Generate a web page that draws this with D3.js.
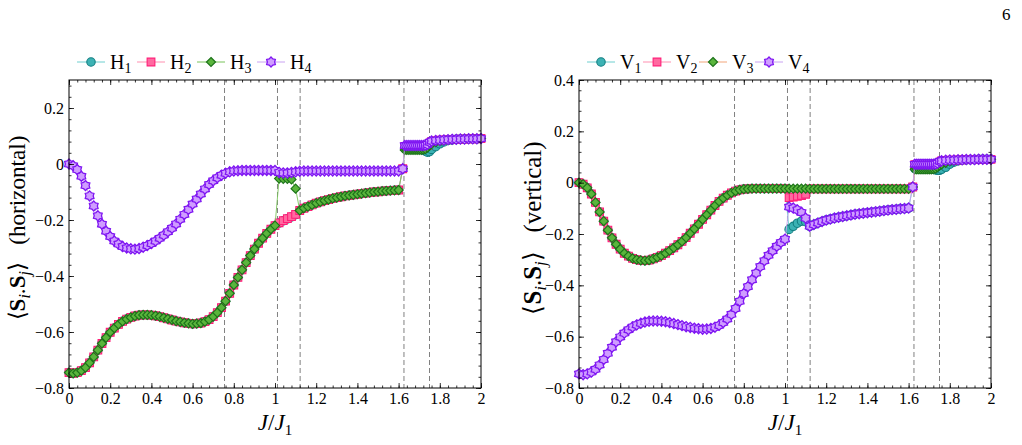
<!DOCTYPE html>
<html>
<head>
<meta charset="utf-8">
<script src="https://cdn.jsdelivr.net/npm/d3@7"></script>
<style>
  body { margin: 0; background: #fff; }
  svg, svg text { font-family: "Liberation Serif", "Times New Roman", serif; }
  svg { display: block; }
</style>
</head>
<body>
<div id="viz"></div>
<script>
// J/J1 grid (denser between the two right-hand transitions)
var J = [0,0.02,0.04,0.06,0.08,0.1,0.12,0.14,0.16,0.18,
         0.2,0.22,0.24,0.26,0.28,0.3,0.32,0.34,0.36,0.38,
         0.4,0.42,0.44,0.46,0.48,0.5,0.52,0.54,0.56,0.58,
         0.6,0.62,0.64,0.66,0.68,0.7,0.72,0.74,0.76,0.78,
         0.8,0.82,0.84,0.86,0.88,0.9,0.92,0.94,0.96,0.98,
         1,1.02,1.04,1.06,1.08,1.1,1.12,1.14,1.16,1.18,
         1.2,1.22,1.24,1.26,1.28,1.3,1.32,1.34,1.36,1.38,
         1.4,1.42,1.44,1.46,1.48,1.5,1.52,1.54,1.56,1.58,
         1.6,1.62,
         1.63,1.64,1.65,1.66,1.67,1.68,1.69,1.7,1.71,1.72,1.73,1.74,1.75,
         1.76,1.78,1.8,1.82,1.84,1.86,1.88,1.9,1.92,1.94,1.96,1.98,2];

// shared pieces, J = 0 .. 1.00
var upperHead = [0.000,-0.006,-0.020,-0.044,-0.077,-0.114,-0.150,-0.185,-0.215,-0.240,
                 -0.259,-0.275,-0.286,-0.295,-0.300,-0.303,-0.304,-0.302,-0.297,-0.291,
                 -0.284,-0.275,-0.265,-0.254,-0.242,-0.229,-0.214,-0.197,-0.180,-0.162,
                 -0.143,-0.125,-0.107,-0.089,-0.073,-0.060,-0.049,-0.040,-0.033,-0.028,
                 -0.025,-0.024,-0.023,-0.023,-0.023,-0.023,-0.023,-0.023,-0.023,-0.023,
                 -0.023];
var lowerHead = [-0.745,-0.748,-0.745,-0.738,-0.727,-0.710,-0.689,-0.665,-0.641,-0.620,
                 -0.601,-0.586,-0.573,-0.562,-0.554,-0.548,-0.543,-0.540,-0.539,-0.539,
                 -0.540,-0.542,-0.545,-0.549,-0.553,-0.557,-0.561,-0.564,-0.567,-0.569,
                 -0.571,-0.570,-0.568,-0.563,-0.556,-0.545,-0.531,-0.513,-0.490,-0.462,
                 -0.432,-0.405,-0.378,-0.352,-0.327,-0.304,-0.283,-0.265,-0.248,-0.233,
                 -0.220];
// J = 1.12 .. 1.60
var lowerTailH = [-0.166,-0.158,-0.152,-0.146,-0.140,-0.135,-0.131,-0.127,-0.123,-0.120,
                  -0.117,-0.114,-0.112,-0.110,-0.108,-0.106,-0.104,-0.102,-0.100,-0.099,
                  -0.097,-0.096,-0.095,-0.094,-0.093];
var upperTailH = [-0.026,-0.025,-0.025,-0.025,-0.025,-0.025,-0.025,-0.025,-0.025,-0.025,
                  -0.025,-0.025,-0.025,-0.025,-0.025,-0.025,-0.025,-0.025,-0.025,-0.025,
                  -0.025,-0.025,-0.025,-0.025,-0.025];
var lowerTailV = [-0.170,-0.163,-0.157,-0.151,-0.146,-0.142,-0.138,-0.135,-0.132,-0.129,
                  -0.126,-0.123,-0.121,-0.119,-0.117,-0.115,-0.113,-0.111,-0.109,-0.107,
                  -0.105,-0.104,-0.102,-0.101,-0.099];
var upperTailV = [-0.024,-0.024,-0.024,-0.024,-0.024,-0.024,-0.024,-0.024,-0.024,-0.024,
                  -0.024,-0.024,-0.024,-0.024,-0.024,-0.024,-0.024,-0.024,-0.024,-0.024,
                  -0.024,-0.024,-0.024,-0.024,-0.024];

// horizontal bonds
var H1 = [].concat(lowerHead, [-0.211,-0.203,-0.196,-0.189,-0.181], lowerTailH, [-0.017],
  [0.055,0.055,0.055,0.055,0.055,0.055,0.055,0.055,0.053,0.050,0.046,0.042,0.044],
  [0.052,0.062,0.072,0.079,0.084,0.086,0.088,0.089,0.089,0.090,0.090,0.090,0.091]);
var H2 = [].concat(lowerHead, [-0.210,-0.202,-0.195,-0.188,-0.180], lowerTailH, [-0.017],
  [0.063,0.063,0.063,0.063,0.063,0.063,0.063,0.063,0.063,0.063,0.064,0.066,0.074],
  [0.080,0.083,0.085,0.086,0.087,0.088,0.088,0.089,0.089,0.090,0.090,0.090,0.091]);
var H3 = [].concat(lowerHead, [-0.052,-0.053,-0.053,-0.055,-0.088], lowerTailH, [-0.017],
  [0.050,0.050,0.050,0.050,0.050,0.050,0.050,0.050,0.050,0.051,0.053,0.058,0.066],
  [0.072,0.078,0.082,0.085,0.086,0.087,0.088,0.089,0.089,0.090,0.090,0.090,0.091]);
var H4 = [].concat(upperHead, [-0.030,-0.032,-0.032,-0.030,-0.028], upperTailH, [-0.017],
  [0.066,0.066,0.066,0.066,0.066,0.066,0.066,0.066,0.066,0.066,0.067,0.070,0.078],
  [0.082,0.084,0.085,0.086,0.087,0.088,0.088,0.089,0.089,0.090,0.090,0.090,0.091]);

// vertical bonds
var V1 = [].concat(upperHead, [-0.182,-0.170,-0.158,-0.150,-0.152], lowerTailV, [-0.017],
  [0.055,0.055,0.055,0.055,0.055,0.055,0.055,0.055,0.054,0.052,0.050,0.048,0.048],
  [0.052,0.060,0.072,0.080,0.085,0.088,0.089,0.090,0.090,0.091,0.091,0.091,0.091]);
var V2 = [].concat(upperHead, [-0.058,-0.056,-0.053,-0.050,-0.045], upperTailV, [-0.017],
  [0.070,0.070,0.070,0.070,0.070,0.070,0.070,0.070,0.070,0.070,0.071,0.074,0.080],
  [0.085,0.087,0.088,0.088,0.089,0.089,0.090,0.090,0.090,0.091,0.091,0.091,0.091]);
var V3 = [].concat(upperHead, [-0.023,-0.023,-0.023,-0.023,-0.023], upperTailV, [-0.017],
  [0.052,0.052,0.052,0.052,0.052,0.052,0.052,0.052,0.052,0.053,0.055,0.060,0.066],
  [0.071,0.077,0.083,0.086,0.088,0.089,0.090,0.090,0.090,0.091,0.091,0.091,0.091]);
var V4 = [].concat(lowerHead, [-0.095,-0.099,-0.106,-0.116,-0.138], lowerTailV, [-0.017],
  [0.072,0.072,0.072,0.072,0.072,0.072,0.072,0.072,0.072,0.072,0.073,0.076,0.083],
  [0.085,0.087,0.088,0.088,0.089,0.089,0.090,0.090,0.090,0.091,0.091,0.091,0.091]);

var transitions = [0.755, 1.012, 1.122, 1.626, 1.75];
var xTicks = [0, 0.2, 0.4, 0.6, 0.8, 1, 1.2, 1.4, 1.6, 1.8, 2];
var yTicksH = [-0.8, -0.6, -0.4, -0.2, 0, 0.2];
var yTicksV = [-0.8, -0.6, -0.4, -0.2, 0, 0.2, 0.4];

// six-pointed marker
var hexagram = {
  draw: function(ctx, size) {
    var R = Math.sqrt(size) * 0.62, r = R * 0.72;
    for (var k = 0; k < 12; k++) {
      var a = -Math.PI / 2 + k * Math.PI / 6, rr = k % 2 ? r : R;
      if (k === 0) ctx.moveTo(rr * Math.cos(a), rr * Math.sin(a));
      else ctx.lineTo(rr * Math.cos(a), rr * Math.sin(a));
    }
    ctx.closePath();
  }
};

var styles = [
  {shape: d3.symbolCircle,   size: 56, fill: "#3cb2b4", stroke: "#137f82", line: "#6fcfcf", sw: 1.1},
  {shape: d3.symbolSquare,   size: 60, fill: "#ff69a0", stroke: "#ff1f78", line: "#ff8fb0", sw: 1.1},
  {shape: d3.symbolDiamond2, size: 52, fill: "#5ab53c", stroke: "#1d741a", line: "#79c35a", sw: 1.2},
  {shape: hexagram,          size: 66, fill: "#cf9dff", stroke: "#7f16f2", line: "#c9a2f2", sw: 1.3}
];

var svg = d3.select('#viz').append('svg')
  .attr('width', 1022)
  .attr('height', 445);

svg.append('text').attr('x', 1002).attr('y', 20)
  .style('font-size', '17px').text('6');

function fmt(d) { return d3.format('~g')(d); }

// draws minor + major inward ticks for one side of the frame
function side(g, make, ticks, minor, labels) {
  g.append('g').call(make().tickValues(minor).tickSizeInner(-2.5).tickSizeOuter(0).tickFormat(''))
    .select('.domain').remove();
  g.append('g').call(make().tickValues(ticks).tickSizeInner(-5).tickSizeOuter(0)
      .tickPadding(labels ? 5 : 0).tickFormat(labels ? fmt : ''))
    .select('.domain').remove();
  return g;
}

function panel(p) {
  var x = d3.scaleLinear().domain([0, 2]).range([p.left, p.right]);
  var y = d3.scaleLinear().domain(p.yDomain).range([388, 80]);
  var g = svg.append('g');

  // phase boundaries
  g.selectAll('line.tr').data(transitions).enter().append('line')
    .attr('x1', function(d) { return x(d); }).attr('x2', function(d) { return x(d); })
    .attr('y1', 80).attr('y2', 388)
    .attr('stroke', '#808080').attr('stroke-width', 1).attr('stroke-dasharray', '5,3');

  var line = d3.line().x(function(d, i) { return x(J[i]); }).y(function(d) { return y(d); });

  p.series.forEach(function(vals, s) {
    var st = styles[s];
    var lc = (p.lineColors && p.lineColors[s]) || st.line;
    g.append('path').datum(vals).attr('d', line)
      .attr('fill', 'none').attr('stroke', lc).attr('stroke-width', 0.9);
    g.selectAll('path.m' + s).data(vals).enter().append('path')
      .attr('class', 'm' + s)
      .attr('d', d3.symbol(st.shape, st.size))
      .attr('transform', function(d, i) { return 'translate(' + x(J[i]) + ',' + y(d) + ')'; })
      .attr('fill', st.fill).attr('stroke', st.stroke).attr('stroke-width', st.sw);
  });

  // frame and ticks (inward, on all sides)
  var xMinor = d3.range(0, 2.0001, 0.04);
  var yMinor = d3.range(p.yDomain[0], p.yDomain[1] + 1e-6, 0.04);
  var ga = g.append('g');
  side(ga.append('g').attr('transform', 'translate(0,388)'), function() { return d3.axisBottom(x); }, xTicks, xMinor, true);
  side(ga.append('g').attr('transform', 'translate(0,80)'), function() { return d3.axisTop(x); }, xTicks, xMinor, false);
  side(ga.append('g').attr('transform', 'translate(' + p.left + ',0)'), function() { return d3.axisLeft(y); }, p.yTicks, yMinor, true);
  side(ga.append('g').attr('transform', 'translate(' + p.right + ',0)'), function() { return d3.axisRight(y); }, p.yTicks, yMinor, false);
  ga.selectAll('g').attr('font-family', null).attr('font-size', null);
  ga.selectAll('.tick line').attr('stroke', '#000').attr('stroke-width', 0.8);
  ga.selectAll('.tick text').style('font-size', '16px')
    .style('font-family', '"Liberation Serif", "Times New Roman", serif').attr('fill', '#000');
  g.append('rect').attr('x', p.left).attr('y', 80).attr('width', p.right - p.left).attr('height', 308)
    .attr('fill', 'none').attr('stroke', '#000').attr('stroke-width', 1);

  // x title
  var xt = g.append('text').attr('x', (p.left + p.right) / 2).attr('y', 430)
    .attr('text-anchor', 'middle').style('font-size', '23px');
  xt.append('tspan').style('font-style', 'italic').text('J');
  xt.append('tspan').text('/');
  xt.append('tspan').style('font-style', 'italic').text('J');
  xt.append('tspan').attr('dy', 5).style('font-size', '15px').text('1');

  // y title, scaled to the length it has in the figure
  var yt = g.append('text').attr('transform', 'translate(' + p.yTitleX + ',' + p.yTitleY + ') rotate(-90)')
    .attr('text-anchor', 'middle').style('font-size', '22px');
  yt.append('tspan').text('\u27E8');
  yt.append('tspan').style('font-weight', 'bold').text('S');
  yt.append('tspan').attr('class', 'sub').attr('dy', 5).style('font-style', 'italic').text('i');
  yt.append('tspan').attr('dy', -5).text('.');
  yt.append('tspan').style('font-weight', 'bold').text('S');
  yt.append('tspan').attr('class', 'sub').attr('dy', 5).style('font-style', 'italic').text('j');
  yt.append('tspan').attr('dy', -5).text('\u27E9\u00A0\u00A0\u00A0(' + p.yWord + ')');
  var fs = 22 * p.yTitleLen / yt.node().getComputedTextLength();
  yt.style('font-size', fs + 'px');
  yt.selectAll('.sub').style('font-size', (fs * 0.68) + 'px');

  // legend
  p.names.forEach(function(nm, s) {
    var st = styles[s];
    var lx = p.legendX + s * p.legendStep;
    var lc = (p.lineColors && p.lineColors[s]) || st.line;
    g.append('line').attr('x1', lx).attr('x2', lx + 28).attr('y1', 62).attr('y2', 62)
      .attr('stroke', lc).attr('stroke-width', 1);
    g.append('path').attr('d', d3.symbol(st.shape, st.size)())
      .attr('transform', 'translate(' + (lx + 14) + ',62)')
      .attr('fill', st.fill).attr('stroke', st.stroke).attr('stroke-width', st.sw);
    var t = g.append('text').attr('x', lx + 33).attr('y', 69).style('font-size', '20px');
    t.append('tspan').text(nm);
    t.append('tspan').attr('dy', 4).style('font-size', '14px').text(String(s + 1));
  });
}

panel({left: 69, right: 481, yDomain: [-0.8, 0.3], yTicks: yTicksH,
       series: [H1, H2, H3, H4], names: ['H', 'H', 'H', 'H'],
       legendX: 77, legendStep: 60, yTitleX: 25, yTitleY: 228, yTitleLen: 190, yWord: 'horizontal'});
panel({left: 579, right: 991, yDomain: [-0.8, 0.4], yTicks: yTicksV,
       series: [V1, V2, V3, V4], names: ['V', 'V', 'V', 'V'],
       lineColors: [null, null, '#f2a57a', null],
       legendX: 587, legendStep: 56, yTitleX: 541, yTitleY: 228, yTitleLen: 178, yWord: 'vertical'});
</script>
</body>
</html>
